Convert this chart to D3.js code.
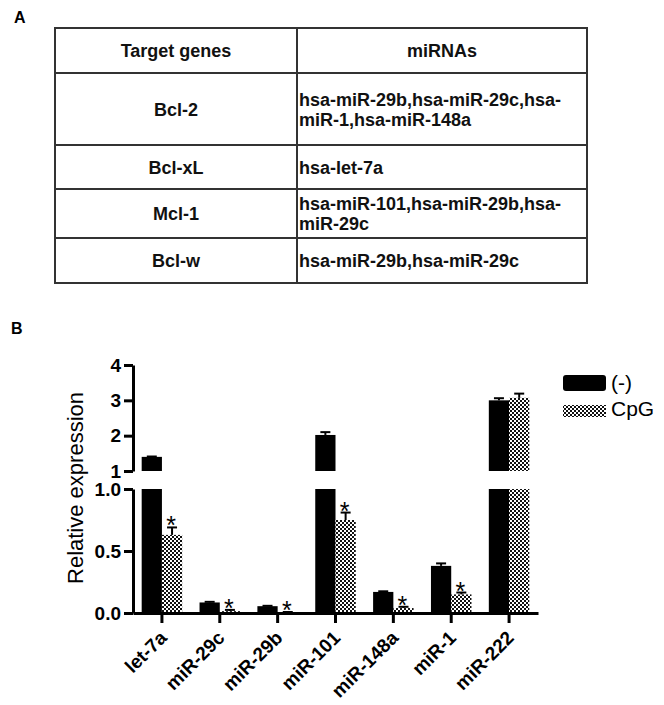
<!DOCTYPE html>
<html>
<head>
<meta charset="utf-8">
<script src="https://cdnjs.cloudflare.com/ajax/libs/d3/7.8.5/d3.min.js"></script>
<style>
  body { margin: 0; background: #fff; }
  svg { display: block; font-family: "Liberation Sans", Arial, sans-serif; }
</style>
</head>
<body>
<div id="fig"></div>
<script>
// Painel A: tabela
const tableHeader = ['Target genes', 'miRNAs'];
const targetGenes = ['Bcl-2', 'Bcl-xL', 'Mcl-1', 'Bcl-w'];
const mirnaLines = [
  ['hsa-miR-29b,hsa-miR-29c,hsa-', 'miR-1,hsa-miR-148a'],
  ['hsa-let-7a'],
  ['hsa-miR-101,hsa-miR-29b,hsa-', 'miR-29c'],
  ['hsa-miR-29b,hsa-miR-29c']
];

// Painel B: dados do gráfico
const categories = ['let-7a', 'miR-29c', 'miR-29b', 'miR-101', 'miR-148a', 'miR-1', 'miR-222'];
const groups = ['(-)', 'CpG'];
const ctrlValues = [1.40, 0.085, 0.055, 2.02, 0.17, 0.38, 3.00];
const ctrlErrors = [0.01, 0.005, 0.003, 0.08, 0.005, 0.02, 0.06];
const cpgValues = [0.63, 0.015, 0.005, 0.75, 0.04, 0.15, 3.07];
const cpgErrors = [0.06, 0.01, 0.003, 0.06, 0.01, 0.015, 0.12];
const cpgSignificant = [true, true, true, true, true, true, false];
const lowTicks = [0, 0.5, 1.0];
const highTicks = [1, 2, 3, 4];

const svg = d3.select('#fig').append('svg')
  .attr('width', 664)
  .attr('height', 705);

// padrão xadrez para CpG
const defs = svg.append('defs');
const pat = defs.append('pattern')
  .attr('id', 'checker')
  .attr('patternUnits', 'userSpaceOnUse')
  .attr('width', 4).attr('height', 4);
pat.append('rect').attr('width', 4).attr('height', 4).attr('fill', '#fff');
pat.append('rect').attr('width', 2).attr('height', 2).attr('fill', '#111');
pat.append('rect').attr('x', 2).attr('y', 2).attr('width', 2).attr('height', 2).attr('fill', '#111');

// ---------- Painel A ----------
svg.append('text').attr('x', 14).attr('y', 23)
  .style('font-size', '16px').style('font-weight', 'bold').text('A');

const tableLeft = 55, tableRight = 587, colDiv = 297;
const rowEdges = [28, 73, 145, 189, 238, 283];
const table = svg.append('g');

table.append('rect')
  .attr('x', tableLeft).attr('y', rowEdges[0])
  .attr('width', tableRight - tableLeft)
  .attr('height', rowEdges[rowEdges.length - 1] - rowEdges[0])
  .attr('fill', 'none').attr('stroke', '#333').attr('stroke-width', 2);

table.selectAll('.hline')
  .data(rowEdges.slice(1, -1))
  .enter().append('line')
  .attr('x1', tableLeft).attr('x2', tableRight)
  .attr('y1', d => d).attr('y2', d => d)
  .attr('stroke', '#333').attr('stroke-width', 2);

table.append('line')
  .attr('x1', colDiv).attr('x2', colDiv)
  .attr('y1', rowEdges[0]).attr('y2', rowEdges[rowEdges.length - 1])
  .attr('stroke', '#333').attr('stroke-width', 2);

const cellFont = t => t.style('font-size', '18px').style('font-weight', 'bold').attr('fill', '#111');

table.selectAll('.head')
  .data(tableHeader)
  .enter().append('text')
  .attr('x', (d, i) => i === 0 ? (tableLeft + colDiv) / 2 : (colDiv + tableRight) / 2)
  .attr('y', (rowEdges[0] + rowEdges[1]) / 2 + 6.5)
  .attr('text-anchor', 'middle')
  .text(d => d)
  .call(cellFont);

table.selectAll('.gene')
  .data(targetGenes)
  .enter().append('text')
  .attr('x', (tableLeft + colDiv) / 2)
  .attr('y', (d, i) => (rowEdges[i + 1] + rowEdges[i + 2]) / 2 + 6.5)
  .attr('text-anchor', 'middle')
  .text(d => d)
  .call(cellFont);

mirnaLines.forEach((lines, i) => {
  const cy = (rowEdges[i + 1] + rowEdges[i + 2]) / 2;
  const first = cy + 6.5 - (lines.length - 1) * 10;
  lines.forEach((ln, j) => {
    table.append('text')
      .attr('x', colDiv + 2)
      .attr('y', first + j * 20)
      .text(ln)
      .call(cellFont);
  });
});

// ---------- Painel B ----------
svg.append('text').attr('x', 11).attr('y', 334)
  .style('font-size', '16px').style('font-weight', 'bold').text('B');

const axisX = 133, axisRight = 538;
const x = d3.scaleBand()
  .domain(categories)
  .range([axisX, axisRight])
  .paddingInner(0.3)
  .paddingOuter(0.15);

const x1 = d3.scaleBand()
  .domain(groups)
  .range([0, x.bandwidth()]);

// eixo quebrado: segmento inferior (0-1) e superior (1-4)
const yLow = d3.scaleLinear().domain([0, 1]).range([613, 489]);
const yHigh = d3.scaleLinear().domain([1, 4]).range([471, 365]);

const chartData = categories.map((c, i) => ({
  cat: c,
  bars: [
    {g: '(-)', v: ctrlValues[i], e: ctrlErrors[i], sig: false},
    {g: 'CpG', v: cpgValues[i], e: cpgErrors[i], sig: cpgSignificant[i]}
  ]
}));

const fillFor = g => g === '(-)' ? '#000' : 'url(#checker)';
const plot = svg.append('g');

chartData.forEach(d => {
  d.bars.forEach(b => {
    const bx = x(d.cat) + x1(b.g);
    const bw = x1.bandwidth();
    // parte inferior
    const lowTop = yLow(Math.min(b.v, 1));
    plot.append('rect')
      .attr('x', bx).attr('y', lowTop)
      .attr('width', bw).attr('height', yLow(0) - lowTop)
      .attr('fill', fillFor(b.g));
    // parte superior
    if (b.v > 1) {
      plot.append('rect')
        .attr('x', bx).attr('y', yHigh(b.v))
        .attr('width', bw).attr('height', yHigh(1) - yHigh(b.v))
        .attr('fill', fillFor(b.g));
    }
    // barra de erro (só para cima)
    const top = b.v + b.e;
    const yS = b.v > 1 ? yHigh : yLow;
    const cx = bx + bw / 2;
    plot.append('line')
      .attr('x1', cx).attr('x2', cx)
      .attr('y1', yS(b.v)).attr('y2', yS(top))
      .attr('stroke', '#000').attr('stroke-width', 2);
    plot.append('line')
      .attr('x1', cx - 5).attr('x2', cx + 5)
      .attr('y1', yS(top)).attr('y2', yS(top))
      .attr('stroke', '#000').attr('stroke-width', 2);
    if (b.sig) {
      plot.append('text')
        .attr('x', cx - 1)
        .attr('y', yS(top) + 7)
        .attr('text-anchor', 'middle')
        .style('font-size', '25px')
        .text('*');
    }
  });
});

// eixos
function styleAxis(g) {
  g.select('.domain').attr('stroke', '#000').attr('stroke-width', 3);
  g.selectAll('.tick line').attr('stroke', '#000').attr('stroke-width', 3);
  g.selectAll('.tick text')
    .attr('fill', '#000')
    .style('font-size', '19px')
    .style('font-weight', 'bold')
    .style('font-family', '"Liberation Sans", Arial, sans-serif');
}

svg.append('g')
  .attr('transform', `translate(${axisX},0)`)
  .call(d3.axisLeft(yLow).tickValues(lowTicks).tickFormat(d3.format('.1f')).tickSize(9).tickSizeOuter(0).tickPadding(3))
  .call(styleAxis);

svg.append('g')
  .attr('transform', `translate(${axisX},0)`)
  .call(d3.axisLeft(yHigh).tickValues(highTicks).tickFormat(d3.format('d')).tickSize(9).tickSizeOuter(0).tickPadding(3))
  .call(styleAxis);

const xAxis = svg.append('g')
  .attr('transform', `translate(0,${yLow(0)})`)
  .call(d3.axisBottom(x).tickSize(10).tickSizeOuter(0))
  .call(styleAxis);

xAxis.selectAll('.tick text')
  .attr('text-anchor', 'end')
  .attr('dy', null)
  .attr('x', 6)
  .attr('y', 26)
  .attr('transform', 'rotate(-45,6,26)');

// título do eixo y
svg.append('text')
  .attr('transform', 'rotate(-90)')
  .attr('x', -488)
  .attr('y', 83)
  .attr('text-anchor', 'middle')
  .style('font-size', '22px')
  .text('Relative expression');

// legenda
const legend = svg.append('g');
const legendY = [375, 405];
const legendH = [16, 12];
groups.forEach((g, i) => {
  legend.append('rect')
    .attr('x', 563).attr('y', legendY[i])
    .attr('width', 43).attr('height', legendH[i])
    .attr('rx', i === 0 ? 3 : 0)
    .attr('fill', fillFor(g));
  legend.append('text')
    .attr('x', 611)
    .attr('y', legendY[i] + legendH[i] - 1)
    .style('font-size', '21px')
    .text(g);
});
</script>
</body>
</html>
